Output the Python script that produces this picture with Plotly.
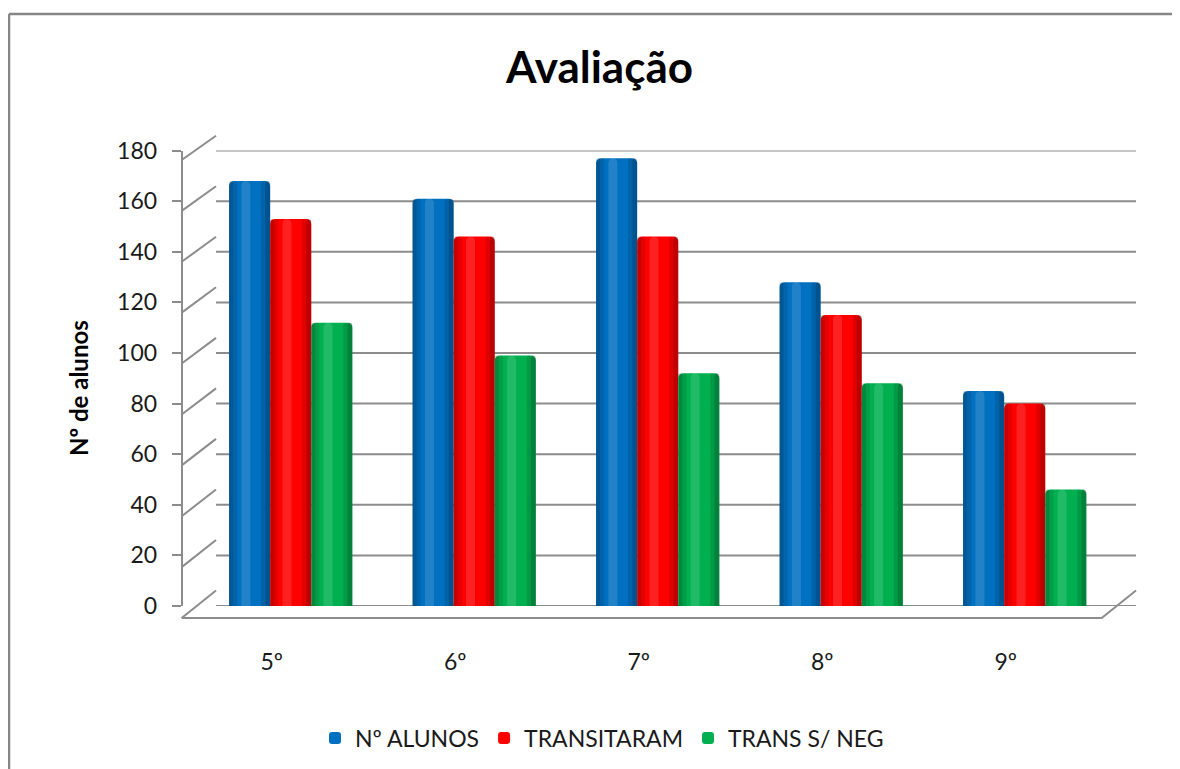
import plotly.graph_objects as go

# ---- data ----
categories = ["5º", "6º", "7º", "8º", "9º"]
n_alunos = [168, 161, 177, 128, 85]
transitaram = [153, 146, 146, 115, 80]
trans_s_neg = [112, 99, 92, 88, 46]
series_names = ["Nº ALUNOS", "TRANSITARAM", "TRANS S/ NEG"]
y_ticks = [0, 20, 40, 60, 80, 100, 120, 140, 160, 180]

series_values = [n_alunos, transitaram, trans_s_neg]
colors = ["#0070C0", "#FF0000", "#00B050"]

# page has an 8px body margin; the figure is offset by it
OFF = 8
W, H = 1180, 769
FONT = "Lato"
TXT = "#1a1a1a"
GRID = "#8c8c8c"


def py(p):
    """window pixel row -> paper fraction"""
    return 1 - (p - OFF) / H


def px(p):
    """window pixel column -> paper fraction"""
    return (p - OFF) / W


# axis domains (perspective: front axis, bar plane, back wall)
dom_bars = [py(606), py(150.6)]
dom_front = [py(618), py(160)]
dom_back = [py(590.5), py(135.7)]

fig = go.Figure()

cat_step = 183.5
cat0 = 290.7
bw = 41.1 / cat_step          # bar width in category units
offsets = [-1.5 * bw, -0.5 * bw, 0.5 * bw]

for name, vals, col, off in zip(series_names, series_values, colors, offsets):
    fig.add_trace(go.Bar(
        x=categories, y=vals, name=name, offset=off, width=bw,
        marker=dict(color=col, line=dict(width=0)),
        xaxis="x", yaxis="y",
    ))
    # cylinder shading strips
    strips = [
        (0.0, 0.10, "rgba(0,0,0,0.22)"),
        (0.10, 0.10, "rgba(0,0,0,0.10)"),
        (0.30, 0.22, "rgba(255,255,255,0.13)"),
        (0.78, 0.10, "rgba(0,0,0,0.12)"),
        (0.88, 0.12, "rgba(0,0,0,0.26)"),
    ]
    for s_off, s_w, s_col in strips:
        fig.add_trace(go.Bar(
            x=categories, y=vals, offset=off + s_off * bw, width=s_w * bw,
            marker=dict(color=s_col, line=dict(width=0)),
            showlegend=False, hoverinfo="skip",
            xaxis="x", yaxis="y",
        ))

# invisible traces so the helper axes exist
fig.add_trace(go.Scatter(x=[None], y=[None], xaxis="x", yaxis="y2",
                         showlegend=False, hoverinfo="skip"))
fig.add_trace(go.Scatter(x=[None], y=[None], xaxis="x", yaxis="y3",
                         showlegend=False, hoverinfo="skip"))

# ---- back wall grid + perspective connectors + floor ----
shapes = []
x_front = px(181.7)
x_back_l = px(216)
x_back_r = px(1136)
x_front_r = px(1101.7)


def dom_y(dom, v):
    return dom[0] + (v - y_ticks[0]) / (y_ticks[-1] - y_ticks[0]) * (dom[1] - dom[0])


for v in y_ticks:
    shapes.append(dict(type="line", xref="paper", yref="y3",
                       x0=x_back_l, x1=x_back_r, y0=v, y1=v,
                       line=dict(color=GRID, width=2), layer="below"))
    shapes.append(dict(type="line", xref="paper", yref="paper",
                       x0=x_front, y0=dom_y(dom_front, v),
                       x1=x_back_l, y1=dom_y(dom_back, v),
                       line=dict(color=GRID, width=2), layer="below"))
# floor front edge and right edge
shapes.append(dict(type="path", xref="paper", yref="paper",
                   path=f"M {x_front},{dom_front[0]} L {x_front_r},{dom_front[0]} "
                        f"L {x_back_r},{dom_back[0]}",
                   line=dict(color=GRID, width=2), layer="below"))
# chart border: left and top edges (the others fall outside the window)
shapes.append(dict(type="line", xref="paper", yref="paper",
                   x0=px(9), x1=px(9), y0=0, y1=py(14),
                   line=dict(color="#868686", width=2.5), layer="below"))
shapes.append(dict(type="line", xref="paper", yref="paper",
                   x0=px(9), x1=1, y0=py(14), y1=py(14),
                   line=dict(color="#868686", width=2.5), layer="below"))

rng_lo = (OFF - cat0) / cat_step
rng_hi = (OFF + W - cat0) / cat_step

fig.update_layout(
    template="none",
    width=W, height=H,
    margin=dict(l=0, r=0, t=0, b=0, pad=0, autoexpand=False),
    paper_bgcolor="white", plot_bgcolor="rgba(0,0,0,0)",
    barmode="overlay",
    barcornerradius=5,
    font=dict(family=FONT, color=TXT),
    shapes=shapes,
    showlegend=True,
    xaxis=dict(domain=[0, 1], range=[rng_lo, rng_hi], type="category",
               showgrid=False, zeroline=False, showline=False, ticks="",
               mirror=False,
               tickfont=dict(family=FONT, size=23, color=TXT),
               ticklabelshift=-19, ticklabelstandoff=40,
               anchor="y", fixedrange=True, automargin=False),
    yaxis=dict(domain=dom_bars, range=[0, 180], visible=False,
               showgrid=False, zeroline=False, fixedrange=True, automargin=False),
    yaxis2=dict(domain=dom_front, range=[0, 180], overlaying="y",
                anchor="free", position=x_front, side="left",
                tickvals=y_ticks, ticktext=[str(t) for t in y_ticks],
                ticks="outside", ticklen=9, tickwidth=2, tickcolor=GRID,
                showline=True, linecolor=GRID, linewidth=2, mirror=False,
                showgrid=False, zeroline=False,
                tickfont=dict(family=FONT, size=23, color=TXT),
                ticklabelstandoff=10, fixedrange=True, automargin=False),
    yaxis3=dict(domain=dom_back, range=[0, 180], overlaying="y",
                visible=False, showgrid=False, zeroline=False,
                fixedrange=True, automargin=False),
    legend=dict(orientation="h", x=px(602), xanchor="center",
                y=py(738), yanchor="middle",
                font=dict(family=FONT, size=23, color=TXT),
                bgcolor="rgba(0,0,0,0)", borderwidth=0),
    annotations=[
        dict(text="<b>Avaliação</b>", xref="paper", yref="paper",
             x=px(598.5), y=py(66), xanchor="center", yanchor="middle",
             showarrow=False, font=dict(family=FONT, size=44, color="black")),
        dict(text="<b>Nº de alunos</b>", xref="paper", yref="paper",
             x=px(78), y=py(388), xanchor="center", yanchor="middle",
             textangle=-90, showarrow=False,
             font=dict(family=FONT, size=24, color="black")),
    ],
)

fig.write_html("out.html")
